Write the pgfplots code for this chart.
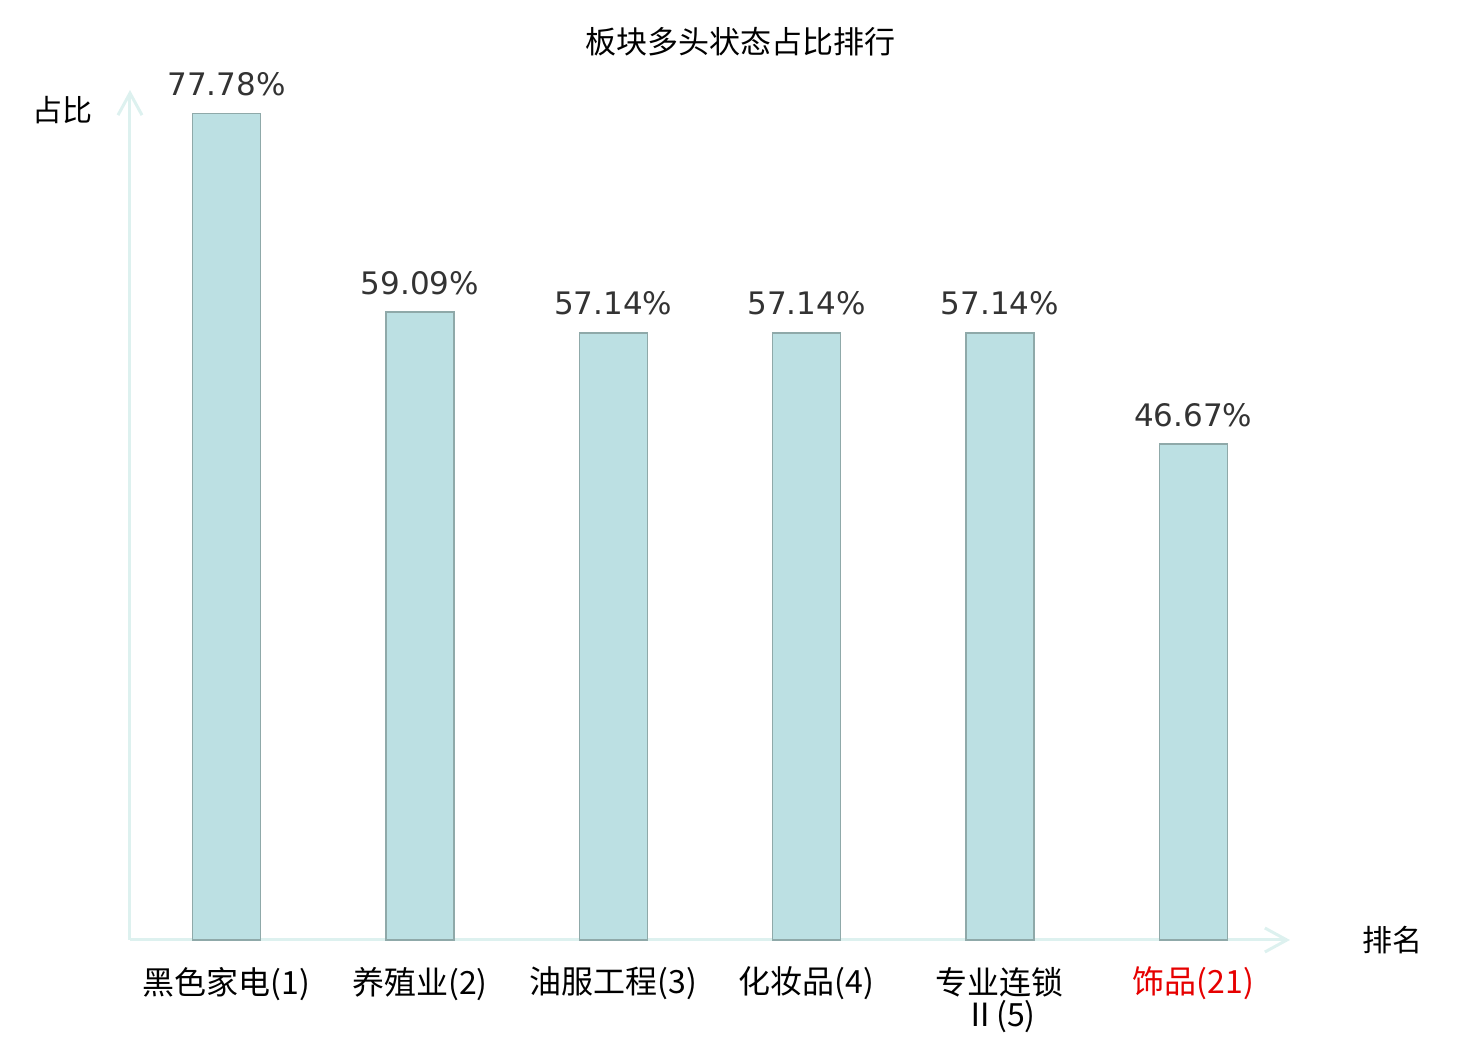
\documentclass[border=0pt]{standalone}
\usepackage{fontspec}
\setmainfont{DejaVu Sans}
\newfontfamily\cjk{Noto Sans CJK SC}
\usepackage{pgfplots}
\pgfplotsset{compat=1.18}
\usetikzlibrary{arrows.meta}
\definecolor{barfill}{HTML}{BCE0E3}
\definecolor{barline}{HTML}{8FA9A9}
\definecolor{axiscol}{HTML}{DDF1EF}
\definecolor{lab}{HTML}{333333}
\definecolor{redlab}{HTML}{E60000}
\begin{document}
\begin{tikzpicture}[x=1pt,y=1pt]
\useasboundingbox (-65,-50) rectangle (675,470);
\begin{axis}[
  at={(0,0)}, anchor=south west,
  scale only axis, width=580pt, height=425pt,
  xmin=-0.5, xmax=5.5, ymin=0, ymax=80,
  axis lines=left,
  axis line style={draw=axiscol, line width=1.5pt, -{Straight Barb[length=11pt,width=12pt]}},
  ytick=\empty,
  xtick={0,1,2,3,4,5},
  xticklabels={黑色家电(1),养殖业(2),油服工程(3),化妆品(4),{专业连锁\\Ⅱ(5)},{\color{redlab}饰品(21)}},
  major tick length=0pt,
  xticklabel style={font=\cjk\fontsize{16}{16}\selectfont, align=center, yshift=-10pt, text=black},
  ybar, bar width=34pt,
  nodes near coords={\pgfmathprintnumber[fixed,fixed zerofill,precision=2,assume math mode=true]{\pgfplotspointmeta}\%},
  nodes near coords style={font=\fontsize{15.5}{18}\selectfont, text=lab, anchor=south, yshift=5pt},
  clip=false,
]
\addplot[fill=barfill, draw=barline, line width=0.8pt] coordinates {
  (0,77.78) (1,59.09) (2,57.14) (3,57.14) (4,57.14) (5,46.67)
};
\end{axis}
\node[font=\cjk\fontsize{15.5}{16}\selectfont, text=black] at (305,449) {板块多头状态占比排行};
\node[font=\cjk\fontsize{15}{16}\selectfont, text=black] at (-33.5,415) {占比};
\node[font=\cjk\fontsize{15}{16}\selectfont, text=black] at (631,0) {排名};
\end{tikzpicture}
\end{document}
